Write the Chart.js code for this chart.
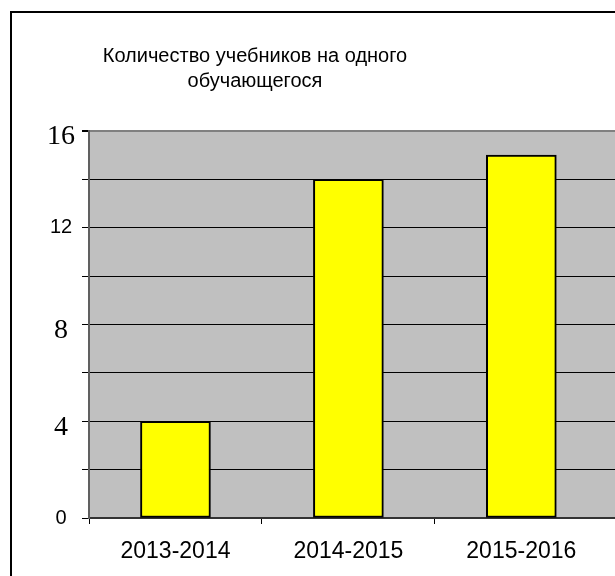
<!DOCTYPE html>
<html>
<head>
<meta charset="utf-8">
<script src="https://cdn.jsdelivr.net/npm/chart.js@4.4.1/dist/chart.umd.min.js"></script>
<style>
    body { margin: 0; overflow: hidden; background: #fff; }
    #frame {
        position: absolute; left: 10px; top: 11px;
        width: 640px; height: 600px;
        border: 2px solid #000;
    }
    #title {
        position: absolute; left: 55px; top: 43px; width: 400px;
        text-align: center;
        font-family: "Liberation Sans", Arial, sans-serif;
        font-size: 20px; line-height: 25px; color: #000;
    }
</style>
</head>
<body>
<div id="frame"><canvas id="booksChart" width="620" height="575"></canvas></div>
<div id="title">Количество учебников на одного<br>обучающегося</div>
<script>
// Chart data
const categories = ['2013-2014', '2014-2015', '2015-2016'];
const booksPerStudent = [4, 14, 15];
const yTickLabels = [0, 4, 8, 12, 16];
const serifTicks = [4, 8, 16];

document.addEventListener('DOMContentLoaded', function() {
    // Grey plot area like the old Excel style
    const plotBackground = {
        id: 'plotBackground',
        beforeDraw: function(chart) {
            const area = chart.chartArea;
            const ctx = chart.ctx;
            ctx.save();
            ctx.fillStyle = '#C0C0C0';
            ctx.fillRect(area.left, area.top, area.right - area.left, area.bottom - area.top);
            ctx.restore();
        }
    };

    const ctx = document.getElementById('booksChart').getContext('2d');
    new Chart(ctx, {
        type: 'bar',
        data: {
            datasets: [{
                data: categories.map((c, i) => ({ x: i, y: booksPerStudent[i] })),
                backgroundColor: '#FFFF00',
                borderColor: '#000',
                borderWidth: 2,
                borderSkipped: false,
                barThickness: 70
            }]
        },
        plugins: [plotBackground],
        options: {
            responsive: false,
            animation: false,
            layout: { padding: { top: 118, left: 0, right: 0, bottom: 0 } },
            plugins: {
                legend: { display: false },
                title: { display: false },
                tooltip: { enabled: false }
            },
            scales: {
                x: {
                    type: 'linear',
                    min: -0.5,
                    max: 2.64,
                    offset: false,
                    afterFit: function(scale) { scale.height = 70; },
                    afterBuildTicks: function(scale) {
                        const ticks = [];
                        for (let i = 0; i <= categories.length; i++) {
                            ticks.push({ value: i - 0.5 });
                            if (i < categories.length) ticks.push({ value: i });
                        }
                        scale.ticks = ticks;
                    },
                    grid: {
                        offset: false,
                        drawOnChartArea: false,
                        tickLength: 6,
                        tickColor: function(context) {
                            const v = context.tick ? context.tick.value : 0;
                            if (Number.isInteger(v) || v > categories.length - 1) return 'rgba(0,0,0,0)';
                            return '#000';
                        }
                    },
                    border: { color: '#333', width: 2 },
                    ticks: {
                        autoSkip: false,
                        maxRotation: 0,
                        padding: 14,
                        color: '#000',
                        font: { family: '"Liberation Sans", Arial, sans-serif', size: 23 },
                        callback: function(value) {
                            return Number.isInteger(value) ? categories[value] : '';
                        }
                    }
                },
                y: {
                    min: 0,
                    max: 16,
                    afterFit: function(scale) { scale.width = 77; },
                    grid: {
                        color: function(context) {
                            return context.tick && context.tick.value === 16 ? '#808080' : '#000';
                        },
                        lineWidth: function(context) {
                            return context.tick && context.tick.value === 16 ? 2 : 1;
                        },
                        tickColor: '#000',
                        tickLength: 7
                    },
                    border: { color: '#606060', width: 2 },
                    ticks: {
                        stepSize: 2,
                        crossAlign: 'center',
                        padding: 7,
                        color: '#000',
                        font: function(context) {
                            const v = context.tick ? context.tick.value : 0;
                            if (serifTicks.includes(v)) {
                                // small line height + empty first line pushes these labels a bit lower
                                return { family: '"Liberation Serif", "Times New Roman", serif', size: 28, lineHeight: 0.43 };
                            }
                            return { family: '"Liberation Sans", Arial, sans-serif', size: 20 };
                        },
                        callback: function(value) {
                            if (!yTickLabels.includes(value)) return '';
                            return serifTicks.includes(value) ? ['', String(value)] : String(value);
                        }
                    }
                }
            }
        }
    });
});
</script>
</body>
</html>
